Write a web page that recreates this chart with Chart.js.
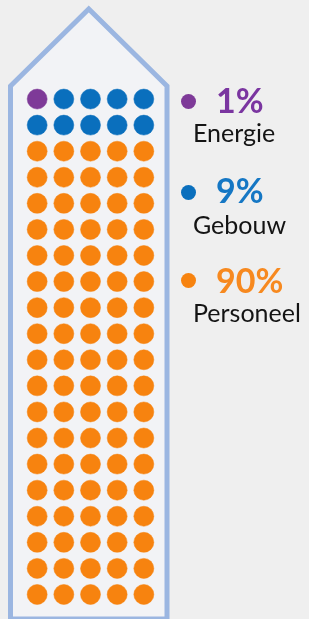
<!DOCTYPE html>
<html><head><meta charset="utf-8">
<script src="https://cdn.jsdelivr.net/npm/chart.js@4.4.1/dist/chart.umd.min.js"></script>
<style>
html,body{margin:0;padding:0;background:#efefef;width:309px;height:619px;overflow:hidden;}
#wrap{position:relative;width:309px;height:619px;}
canvas{position:absolute;left:0;top:0;}
.leg{position:absolute;font-family:Lato,'Open Sans',sans-serif;white-space:nowrap;}
.pct{font-weight:bold;font-size:34px;line-height:34px;}
.lab{font-size:25px;line-height:25px;color:#141414;}
.dot{position:absolute;width:15px;height:15px;border-radius:50%;}
</style></head>
<body><div id="wrap"><canvas id="c" width="309" height="619"></canvas><div id="legend"></div></div>
<script>
const categories = ['Energie', 'Gebouw', 'Personeel'];
const values = [1, 9, 90];
const percentLabels = ['1%', '9%', '90%'];
const colors = ['#7e3a98', '#0a6fbd', '#f7830f'];
const textColors = ['#7a35a0', '#1577c4', '#f7891f'];
const columns = 5;
const rows = 20;

// waffle cells: one point per unit, filled row by row
const datasets = [];
let idx = 0;
categories.forEach((cat, c) => {
  const pts = [];
  for (let k = 0; k < values[c]; k++) {
    pts.push({x: (idx % columns) + 1, y: Math.floor(idx / columns) + 1});
    idx++;
  }
  datasets.push({
    label: cat, data: pts,
    backgroundColor: colors[c], borderColor: colors[c],
    pointRadius: 10, pointBorderWidth: 0.5, pointHoverRadius: 10
  });
});

const housePlugin = {
  id: 'house',
  beforeDatasetsDraw(chart) {
    const ctx = chart.ctx;
    const L = 10.5, R = 167, shoulder = 86, apexY = 9, bottom = 619;
    const apexX = (L + R) / 2;
    ctx.save();
    ctx.beginPath();
    ctx.moveTo(L, bottom);
    ctx.lineTo(L, shoulder);
    ctx.lineTo(apexX, apexY);
    ctx.lineTo(R, shoulder);
    ctx.lineTo(R, bottom);
    ctx.closePath();
    ctx.fillStyle = '#f2f3f6';
    ctx.fill();
    ctx.lineWidth = 5;
    ctx.lineJoin = 'miter';
    ctx.strokeStyle = '#9bb6e1';
    ctx.stroke();
    ctx.restore();
  }
};

new Chart(document.getElementById('c'), {
  type: 'scatter',
  data: {datasets},
  options: {
    responsive: false, animation: false, events: [],
    layout: {padding: {left: 5.5, right: 138.5, top: 86, bottom: 11.5}},
    plugins: {legend: {display: false}, tooltip: {enabled: false}},
    scales: {
      x: {type: 'linear', min: 0, max: columns + 1, display: false},
      y: {type: 'linear', min: 0.5, max: rows + 0.5, reverse: true, display: false}
    }
  },
  plugins: [housePlugin]
});

// legend as real text
const legend = document.getElementById('legend');
const dotY = [101, 192, 280];
const pctTop = [83, 173, 263];
const labTop = [120, 212, 300];
categories.forEach((cat, c) => {
  const d = document.createElement('div');
  d.className = 'dot';
  d.style.left = (188 - 7.5) + 'px';
  d.style.top = (dotY[c] - 7.5) + 'px';
  d.style.background = colors[c];
  legend.appendChild(d);
  const p = document.createElement('div');
  p.className = 'leg pct';
  p.style.left = '216px';
  p.style.top = pctTop[c] + 'px';
  p.style.color = textColors[c];
  p.textContent = percentLabels[c];
  legend.appendChild(p);
  const l = document.createElement('div');
  l.className = 'leg lab';
  l.style.left = '193px';
  l.style.top = labTop[c] + 'px';
  l.textContent = cat;
  legend.appendChild(l);
});
</script>
</body></html>
